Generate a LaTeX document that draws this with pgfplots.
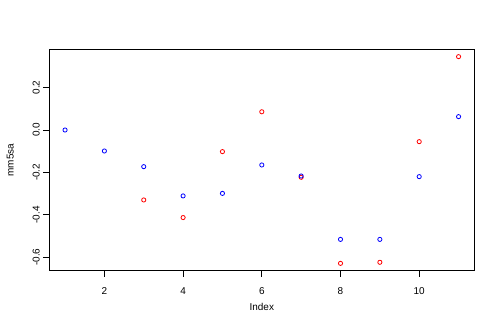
\documentclass[border=0pt]{standalone}
\usepackage{pgfplots}
\pgfplotsset{compat=1.18}
\usepackage{fontspec}
\setmainfont{Liberation Sans}
\begin{document}
\fontsize{10}{12}\selectfont
\begin{tikzpicture}
\path[use as bounding box] (-49.3bp,-62.3bp) rectangle (450.7bp,270.7bp);
\begin{axis}[
  at={(0,0)}, anchor=south west,
  scale only axis, width=425bp, height=221.4bp,
  xmin=0.6, xmax=11.4, ymin=-0.6637, ymax=0.3807,
  xtick={2,4,6,8,10}, ytick={-0.6,-0.4,-0.2,0,0.2},
  yticklabels={-0.6,-0.4,-0.2,0.0,0.2},
  tick align=outside, major tick length=6bp,
  xtick pos=bottom, ytick pos=left,
  axis line style={line width=0.8bp},
  every tick/.style={black, line width=0.8bp},
  /pgf/number format/assume math mode=true,
  tick label style={font=\fontsize{10}{12}\selectfont},
  xticklabel shift=7bp,
  yticklabel style={rotate=90, anchor=south},
  yticklabel shift=0bp,
  xlabel={Index}, ylabel={mm5sa},
  label style={font=\fontsize{10}{12}\selectfont},
  xlabel style={at={(axis description cs:0.5,-0.1626)}, anchor=center},
  ylabel style={at={(axis description cs:-0.0918,0.5)}, anchor=center},
]
\addplot[only marks, mark=o, color=red, mark size=2.1bp, mark options={line width=0.8bp}] coordinates {
(3,-0.330) (4,-0.413) (5,-0.102) (6,0.086) (7,-0.223) (8,-0.629) (9,-0.624) (10,-0.055) (11,0.346)
};
\addplot[only marks, mark=o, color=blue, mark size=2.1bp, mark options={line width=0.8bp}] coordinates {
(1,0.0) (2,-0.099) (3,-0.173) (4,-0.311) (5,-0.299) (6,-0.165) (7,-0.217) (8,-0.516) (9,-0.516) (10,-0.220) (11,0.063)
};
\end{axis}
\end{tikzpicture}
\end{document}
